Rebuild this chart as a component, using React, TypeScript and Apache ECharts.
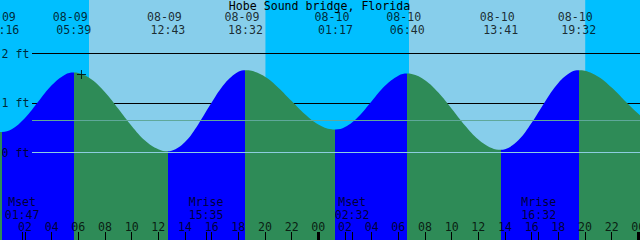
import React, { useEffect, useRef } from "react";
import * as echarts from "echarts";

// ---------- data ----------
const stationName = "Hobe Sound bridge, Florida";

// tide curve samples: hours since 08-09 00:00, height in feet
const tideHours = [
  0, 0.267, 1, 2, 3, 4, 5, 5.65,
  6, 7, 8, 9, 10, 11, 12, 12.717,
  13, 14, 15, 16, 17, 18, 18.533,
  19, 20, 21, 22, 23, 24, 25, 25.283,
  26, 27, 28, 29, 30, 30.667,
  31, 32, 33, 34, 35, 36, 37, 37.683,
  38, 39, 40, 41, 42, 43, 43.533,
  44, 45, 46, 47, 48, 48.2,
];
const tideFeet = [
  0.425, 0.42, 0.474, 0.701, 1.034, 1.363, 1.577, 1.62,
  1.61, 1.481, 1.224, 0.89, 0.543, 0.25, 0.071, 0.03,
  0.04, 0.219, 0.579, 1.015, 1.405, 1.636, 1.67,
  1.656, 1.536, 1.316, 1.044, 0.778, 0.574, 0.475, 0.47,
  0.519, 0.73, 1.043, 1.353, 1.558, 1.6,
  1.592, 1.467, 1.217, 0.89, 0.552, 0.269, 0.095, 0.06,
  0.072, 0.253, 0.607, 1.033, 1.412, 1.637, 1.67,
  1.656, 1.535, 1.317, 1.048, 0.787, 0.741,
];

const tideEventDates = ["08-09", "08-09", "08-09", "08-09", "08-10", "08-10", "08-10", "08-10"];
const tideEventTimes = ["00:16", "05:39", "12:43", "18:32", "01:17", "06:40", "13:41", "19:32"];
const tideEventKinds = ["low", "high", "low", "high", "low", "high", "low", "high"];

const moonEventNames = ["Mset", "Mrise", "Mset", "Mrise"];
const moonEventDates = ["08-09", "08-09", "08-10", "08-10"];
const moonEventTimes = ["01:47", "15:35", "02:32", "16:32"];

const sunriseDates = ["08-09", "08-10"];
const sunriseTimes = ["06:48", "06:48"];
const sunsetDates = ["08-09", "08-10"];
const sunsetTimes = ["20:02", "20:01"];

const hourTickValues = [0, 2, 4, 6, 8, 10, 12, 14, 16, 18, 20, 22, 24, 26, 28, 30, 32, 34, 36, 38, 40, 42, 44, 46, 48];
const levelLinesFeet = [1, 2];
const datumLinesFeet = [0];
const meanSeaLevelFeet = [0.65];
const levelLabelFeet = [0, 1, 2];

const nowDate = "08-09";
const nowTime = "06:14";
const nowFeet = 1.58;

// ---------- style / layout ----------
const FONT = '"DejaVu Sans Mono", monospace';
const FS = 11.6;
const NIGHT = "#00BFFF";
const DAY = "#87CEEB";
const RISE = "#0000FF";
const FALL = "#2E8B57";
const MSL_COLOR = "#5FA89A";
const DATUM_COLOR = "#8CCDE0";
const X_MIN = 0.125;
const X_MAX = 48.125;
const Y_MIN = -1.7616;
const Y_MAX = 3.0869;
const LINE_LEFT = 32;

function toHours(date: string, time: string): number {
  const day = parseInt(date.slice(3), 10) - 9;
  const [hh, mm] = time.split(":").map((s) => parseInt(s, 10));
  return day * 24 + hh + mm / 60;
}

function textSeries(items: { h: number; y: number; text: string }[], dx = 0, z = 6) {
  return {
    type: "scatter",
    xAxisIndex: 0,
    yAxisIndex: 1,
    z,
    silent: true,
    symbolSize: 1,
    itemStyle: { color: "rgba(0,0,0,0)" },
    data: items.map((it) => ({ value: [it.h, it.y], name: it.text })),
    label: {
      show: true,
      position: "inside",
      formatter: "{b}",
      color: "#000",
      fontFamily: FONT,
      fontSize: FS,
      offset: [dx, 0],
    },
  };
}

export default function App() {
  const ref = useRef<HTMLDivElement>(null);

  useEffect(() => {
    if (!ref.current) return;
    const chart = echarts.init(ref.current, null, { renderer: "svg" });

    const eventHours = tideEventDates.map((d, i) => toHours(d, tideEventTimes[i]));
    const moonHours = moonEventDates.map((d, i) => toHours(d, moonEventTimes[i]));
    const riseHours = sunriseDates.map((d, i) => toHours(d, sunriseTimes[i]));
    const setHours = sunsetDates.map((d, i) => toHours(d, sunsetTimes[i]));
    const nowHour = toHours(nowDate, nowTime);

    // rising / falling colour pieces
    const pieces: any[] = [];
    pieces.push({ lt: eventHours[0], color: tideEventKinds[0] === "high" ? RISE : FALL });
    eventHours.forEach((h, i) => {
      const p: any = { gte: h, color: tideEventKinds[i] === "low" ? RISE : FALL };
      if (i < eventHours.length - 1) p.lt = eventHours[i + 1];
      pieces.push(p);
    });

    const tickHours = [...hourTickValues, ...moonHours];

    const series: any[] = [
      // day background
      {
        type: "custom",
        z: 0,
        silent: true,
        data: riseHours.map((r, i) => [r, setHours[i]]),
        renderItem: (params: any, api: any) => {
          const cs = params.coordSys;
          const x0 = api.coord([api.value(0), 0])[0];
          const x1 = api.coord([api.value(1), 0])[0];
          return {
            type: "rect",
            shape: { x: x0, y: cs.y, width: x1 - x0, height: cs.height },
            style: { fill: DAY },
          };
        },
      },
      // black level lines behind water
      {
        type: "custom",
        z: 1,
        silent: true,
        data: levelLinesFeet.map((f) => [X_MIN, f]),
        renderItem: (params: any, api: any) => {
          const cs = params.coordSys;
          const y = Math.floor(api.coord([X_MIN, api.value(1)])[1]) + 0.5;
          return {
            type: "line",
            shape: { x1: cs.x + LINE_LEFT, y1: y, x2: cs.x + cs.width, y2: y },
            style: { stroke: "#000", lineWidth: 1 },
          };
        },
      },
      // water
      {
        type: "line",
        z: 2,
        silent: true,
        data: tideHours.map((h, i) => [h, tideFeet[i]]),
        smooth: 0.4,
        symbol: "none",
        lineStyle: { width: 0 },
        areaStyle: { opacity: 1, origin: "start" },
      },
      // datum and mean sea level lines over water
      {
        type: "custom",
        z: 3,
        silent: true,
        data: [
          ...datumLinesFeet.map((f) => [X_MIN, f, 0]),
          ...meanSeaLevelFeet.map((f) => [X_MIN, f, 1]),
        ],
        renderItem: (params: any, api: any) => {
          const cs = params.coordSys;
          const y = Math.floor(api.coord([X_MIN, api.value(1)])[1]) + 0.5;
          return {
            type: "line",
            shape: { x1: cs.x + LINE_LEFT, y1: y, x2: cs.x + cs.width, y2: y },
            style: { stroke: api.value(2) === 1 ? MSL_COLOR : DATUM_COLOR, lineWidth: 1 },
          };
        },
      },
      // bottom ticks
      {
        type: "custom",
        z: 4,
        silent: true,
        data: tickHours.map((h) => [h, 0]),
        renderItem: (params: any, api: any) => {
          const cs = params.coordSys;
          const h = api.value(0);
          const x = Math.floor(api.coord([h, 0])[0]) + 0.5;
          const thick = Math.abs(h % 24) < 1e-6;
          const bottom = cs.y + cs.height;
          return {
            type: "line",
            shape: { x1: x, y1: bottom - 8, x2: x, y2: bottom },
            style: { stroke: "#000", lineWidth: thick ? 3 : 1 },
          };
        },
      },
      // feet labels
      {
        type: "scatter",
        z: 6,
        silent: true,
        symbolSize: 1,
        itemStyle: { color: "rgba(0,0,0,0)" },
        data: levelLabelFeet.map((f) => ({
          value: [X_MIN, f + (152.8 - Math.floor(152.8) - 0.5) / 49.5 * 0],
          name: `${f} ft`,
        })),
        label: {
          show: true,
          position: "right",
          distance: 1,
          formatter: "{b}",
          color: "#000",
          fontFamily: FONT,
          fontSize: FS,
        },
      },
      // tide event labels
      textSeries(eventHours.map((h, i) => ({ h, y: 17, text: tideEventDates[i] })), -3.5),
      textSeries(eventHours.map((h, i) => ({ h, y: 30.2, text: tideEventTimes[i] }))),
      // moon labels
      textSeries(moonHours.map((h, i) => ({ h, y: 202.4, text: moonEventNames[i] }))),
      textSeries(moonHours.map((h, i) => ({ h, y: 214.5, text: moonEventTimes[i] }))),
      // hour labels
      textSeries(
        hourTickValues.map((h) => ({ h, y: 226.5, text: String(h % 24).padStart(2, "0") }))
      ),
      // now marker
      {
        type: "scatter",
        z: 7,
        silent: true,
        data: [[nowHour, nowFeet]],
        symbol: "path://M0,4H9V5H0Z M4,0H5V9H4Z",
        symbolSize: 9,
        itemStyle: { color: "#000" },
      },
    ];

    chart.setOption({
      animation: false,
      backgroundColor: NIGHT,
      grid: { left: 0, right: 0, top: 0, bottom: 0 },
      xAxis: { type: "value", min: X_MIN, max: X_MAX, show: false },
      yAxis: [
        { type: "value", min: Y_MIN, max: Y_MAX, show: false },
        { type: "value", min: 0, max: 240, inverse: true, show: false },
      ],
      visualMap: {
        type: "piecewise",
        show: false,
        dimension: 0,
        seriesIndex: 2,
        pieces,
      },
      graphic: [
        {
          type: "text",
          x: 319.5,
          y: 5.7,
          z: 10,
          style: {
            text: stationName,
            fontFamily: FONT,
            fontSize: FS,
            fill: "#000",
            align: "center",
            verticalAlign: "middle",
          },
        },
      ],
      series,
    });

    return () => chart.dispose();
  }, []);

  return (
    <div
      ref={ref}
      style={{ position: "fixed", left: 0, top: 0, width: 640, height: 240 }}
    />
  );
}
